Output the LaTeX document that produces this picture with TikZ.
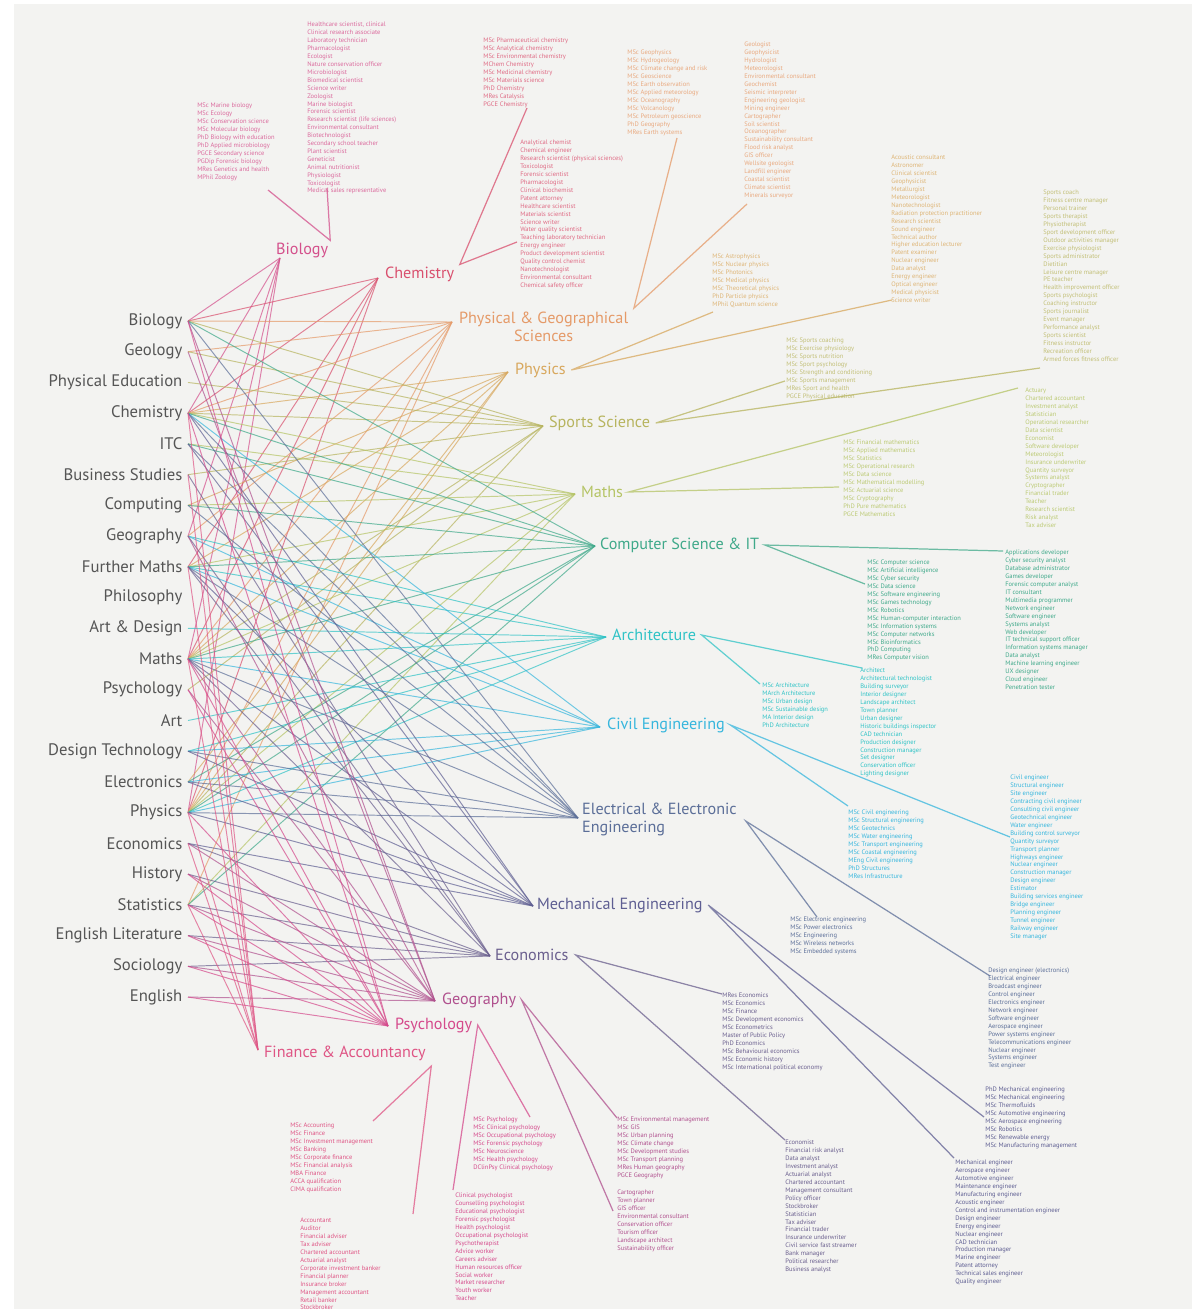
\documentclass[tikz,border=0pt]{standalone}
\usepackage{fontspec}
\setmainfont{PT Sans}
\usetikzlibrary{positioning}
\definecolor{subjgray}{HTML}{555555}
\definecolor{bggray}{HTML}{F3F3F1}
\definecolor{cbio}{HTML}{D4508C}
\definecolor{cchem}{HTML}{D9506E}
\definecolor{cphg}{HTML}{E59A68}
\definecolor{cphy}{HTML}{D8A85E}
\definecolor{cspo}{HTML}{B7B45E}
\definecolor{cmat}{HTML}{B5C465}
\definecolor{ccs}{HTML}{3FA98A}
\definecolor{carc}{HTML}{2FC3C6}
\definecolor{cciv}{HTML}{36B6DD}
\definecolor{cele}{HTML}{5B6E98}
\definecolor{cmec}{HTML}{5E5E92}
\definecolor{ceco}{HTML}{6A5F8E}
\definecolor{cgeo}{HTML}{B0508E}
\definecolor{cpsy}{HTML}{D54A8C}
\definecolor{cfin}{HTML}{DF5585}
\tikzset{
  subject/.style={anchor=east, inner xsep=3pt, inner ysep=1pt,
    font=\fontsize{9.5}{10}\selectfont, text=subjgray},
  degree/.style={anchor=west, inner sep=1pt, font=\fontsize{9.2}{10}\selectfont},
  jobs/.style={anchor=north west, inner sep=0pt, align=left,
    font=\fontsize{3.7}{4.5}\selectfont},
  link/.style={line width=0.55pt, opacity=0.7},
  joblink/.style={line width=0.7pt, opacity=0.75}
}

\begin{document}
\begin{tikzpicture}[x=0.02cm, y=-0.02cm]

    % Fond
    \fill[white] (0,0) rectangle (1194,1311);
    \fill[bggray] (14,4) rectangle (1192,1309);
    \useasboundingbox (0,0) rectangle (1194,1311);

    % Subjects
    \foreach \name [count=\i] in {Biology, Geology, Physical Education, Chemistry, ITC,
        Business Studies, Computing, Geography, Further Maths, Philosophy, Art \& Design,
        Maths, Psychology, Art, Design Technology, Electronics, Physics, Economics,
        History, Statistics, English Literature, Sociology, English}
        \node[subject] (s\i) at (188, {290.27+30.73*\i}) {\name};

    % Degrees
    \coordinate (dBio) at (280,258);
    \coordinate (dChem) at (378,278);
    \coordinate (dPhg) at (452,322);
    \coordinate (dPhy) at (508,372);
    \coordinate (dSpo) at (543,426);
    \coordinate (dMat) at (575,494);
    \coordinate (dCs) at (595,546);
    \coordinate (dArc) at (606,637);
    \coordinate (dCiv) at (600,727);
    \coordinate (dEle) at (578,818);
    \coordinate (dMec) at (533,906);
    \coordinate (dEco) at (490,956);
    \coordinate (dGeo) at (435,1001);
    \coordinate (dPsy) at (388,1026);
    \coordinate (dFin) at (258,1050);

    % Links
    \foreach \d/\col/\list in {
        dBio/cbio/{1,4,8,12,17},
        dChem/cchem/{1,4,9,12,17},
        dPhg/cphg/{1,2,4,8,12,17,20},
        dPhy/cphy/{4,7,9,12,16,17},
        dSpo/cspo/{1,2,3,4,6,12,13,17},
        dMat/cmat/{4,5,7,9,12,17,20},
        dCs/ccs/{1,4,5,7,9,12,16,17,20},
        dArc/carc/{8,9,11,12,14,15,17},
        dCiv/cciv/{4,8,9,12,15,16,17},
        dEle/cele/{1,4,5,7,9,12,15,16,17},
        dMec/cmec/{4,5,9,12,15,16,17,18},
        dEco/ceco/{6,8,9,12,18,19,20,21,22},
        dGeo/cgeo/{1,2,8,12,13,18,19,20,21,22,23},
        dPsy/cpsy/{1,4,12,13,17,19,20,21,22,23},
        dFin/cfin/{4,6,9,12,17,18,20}}
    {
        \foreach \s in \list
            \draw[link, draw=\col] (s\s.east) -- (\d);
    }

    % Degree labels
    \node[degree, text=cbio] (lBio) at (274,250) {Biology};
    \node[degree, text=cchem] (lChem) at (383,274) {Chemistry};
    \node[degree, text=cphg, anchor=north west, align=center] (lPhg) at (457,310)
        {Physical \& Geographical\\Sciences};
    \node[degree, text=cphy] (lPhy) at (513,370) {Physics};
    \node[degree, text=cspo] (lSpo) at (547,423) {Sports Science};
    \node[degree, text=cmat] (lMat) at (579,492) {Maths};
    \node[degree, text=ccs] (lCs) at (598,545) {Computer Science \& IT};
    \node[degree, text=carc] (lArc) at (610,635) {Architecture};
    \node[degree, text=cciv] (lCiv) at (605,725) {Civil Engineering};
    \node[degree, text=cele, anchor=north west, align=left] (lEle) at (580,801)
        {Electrical \& Electronic\\Engineering};
    \node[degree, text=cmec] (lMec) at (535,905) {Mechanical Engineering};
    \node[degree, text=ceco] (lEco) at (493,955) {Economics};
    \node[degree, text=cgeo] (lGeo) at (440,1000) {Geography};
    \node[degree, text=cpsy] (lPsy) at (393,1025) {Psychology};
    \node[degree, text=cfin] (lFin) at (262,1053) {Finance \& Accountancy};

    % Careers and further study
    \node[jobs, text=cbio!85] (jA) at (197,103) {MSc Marine biology\\MSc Ecology\\MSc Conservation science\\MSc Molecular biology\\PhD Biology with education\\PhD Applied microbiology\\PGCE Secondary science\\PGDip Forensic biology\\MRes Genetics and health\\MPhil Zoology};
    \node[jobs, text=cbio!85] (jB) at (307,22) {Healthcare scientist, clinical\\Clinical research associate\\Laboratory technician\\Pharmacologist\\Ecologist\\Nature conservation officer\\Microbiologist\\Biomedical scientist\\Science writer\\Zoologist\\Marine biologist\\Forensic scientist\\Research scientist (life sciences)\\Environmental consultant\\Biotechnologist\\Secondary school teacher\\Plant scientist\\Geneticist\\Animal nutritionist\\Physiologist\\Toxicologist\\Medical sales representative};
    \node[jobs, text=cchem!85] (jC) at (483,38) {MSc Pharmaceutical chemistry\\MSc Analytical chemistry\\MSc Environmental chemistry\\MChem Chemistry\\MSc Medicinal chemistry\\MSc Materials science\\PhD Chemistry\\MRes Catalysis\\PGCE Chemistry};
    \node[jobs, text=cchem!85] (jD) at (520,140) {Analytical chemist\\Chemical engineer\\Research scientist (physical sciences)\\Toxicologist\\Forensic scientist\\Pharmacologist\\Clinical biochemist\\Patent attorney\\Healthcare scientist\\Materials scientist\\Science writer\\Water quality scientist\\Teaching laboratory technician\\Energy engineer\\Product development scientist\\Quality control chemist\\Nanotechnologist\\Environmental consultant\\Chemical safety officer};
    \node[jobs, text=cphg!85] (jE) at (627,50) {MSc Geophysics\\MSc Hydrogeology\\MSc Climate change and risk\\MSc Geoscience\\MSc Earth observation\\MSc Applied meteorology\\MSc Oceanography\\MSc Volcanology\\MSc Petroleum geoscience\\PhD Geography\\MRes Earth systems};
    \node[jobs, text=cphg!85] (jF) at (744,42) {Geologist\\Geophysicist\\Hydrologist\\Meteorologist\\Environmental consultant\\Geochemist\\Seismic interpreter\\Engineering geologist\\Mining engineer\\Cartographer\\Soil scientist\\Oceanographer\\Sustainability consultant\\Flood risk analyst\\GIS officer\\Wellsite geologist\\Landfill engineer\\Coastal scientist\\Climate scientist\\Minerals surveyor};
    \node[jobs, text=cphy!85] (jG) at (712,254) {MSc Astrophysics\\MSc Nuclear physics\\MSc Photonics\\MSc Medical physics\\MSc Theoretical physics\\PhD Particle physics\\MPhil Quantum science};
    \node[jobs, text=cphy!85] (jH) at (891,155) {Acoustic consultant\\Astronomer\\Clinical scientist\\Geophysicist\\Metallurgist\\Meteorologist\\Nanotechnologist\\Radiation protection practitioner\\Research scientist\\Sound engineer\\Technical author\\Higher education lecturer\\Patent examiner\\Nuclear engineer\\Data analyst\\Energy engineer\\Optical engineer\\Medical physicist\\Science writer};
    \node[jobs, text=cspo!85] (jI) at (786,338) {MSc Sports coaching\\MSc Exercise physiology\\MSc Sports nutrition\\MSc Sport psychology\\MSc Strength and conditioning\\MSc Sports management\\MRes Sport and health\\PGCE Physical education};
    \node[jobs, text=cspo!85] (jJ) at (1043,190) {Sports coach\\Fitness centre manager\\Personal trainer\\Sports therapist\\Physiotherapist\\Sport development officer\\Outdoor activities manager\\Exercise physiologist\\Sports administrator\\Dietitian\\Leisure centre manager\\PE teacher\\Health improvement officer\\Sports psychologist\\Coaching instructor\\Sports journalist\\Event manager\\Performance analyst\\Sports scientist\\Fitness instructor\\Recreation officer\\Armed forces fitness officer};
    \node[jobs, text=cmat!90] (jK) at (843,440) {MSc Financial mathematics\\MSc Applied mathematics\\MSc Statistics\\MSc Operational research\\MSc Data science\\MSc Mathematical modelling\\MSc Actuarial science\\MSc Cryptography\\PhD Pure mathematics\\PGCE Mathematics};
    \node[jobs, text=cmat!90] (jL) at (1025,388) {Actuary\\Chartered accountant\\Investment analyst\\Statistician\\Operational researcher\\Data scientist\\Economist\\Software developer\\Meteorologist\\Insurance underwriter\\Quantity surveyor\\Systems analyst\\Cryptographer\\Financial trader\\Teacher\\Research scientist\\Risk analyst\\Tax adviser};
    \node[jobs, text=ccs] (jM) at (1005,550) {Applications developer\\Cyber security analyst\\Database administrator\\Games developer\\Forensic computer analyst\\IT consultant\\Multimedia programmer\\Network engineer\\Software engineer\\Systems analyst\\Web developer\\IT technical support officer\\Information systems manager\\Data analyst\\Machine learning engineer\\UX designer\\Cloud engineer\\Penetration tester};
    \node[jobs, text=ccs] (jN) at (867,560) {MSc Computer science\\MSc Artificial intelligence\\MSc Cyber security\\MSc Data science\\MSc Software engineering\\MSc Games technology\\MSc Robotics\\MSc Human-computer interaction\\MSc Information systems\\MSc Computer networks\\MSc Bioinformatics\\PhD Computing\\MRes Computer vision};
    \node[jobs, text=carc] (jO) at (860,668) {Architect\\Architectural technologist\\Building surveyor\\Interior designer\\Landscape architect\\Town planner\\Urban designer\\Historic buildings inspector\\CAD technician\\Production designer\\Construction manager\\Set designer\\Conservation officer\\Lighting designer};
    \node[jobs, text=carc] (jP) at (762,683) {MSc Architecture\\MArch Architecture\\MSc Urban design\\MSc Sustainable design\\MA Interior design\\PhD Architecture};
    \node[jobs, text=cciv] (jQ) at (848,810) {MSc Civil engineering\\MSc Structural engineering\\MSc Geotechnics\\MSc Water engineering\\MSc Transport engineering\\MSc Coastal engineering\\MEng Civil engineering\\PhD Structures\\MRes Infrastructure};
    \node[jobs, text=cciv] (jR) at (1010,775) {Civil engineer\\Structural engineer\\Site engineer\\Contracting civil engineer\\Consulting civil engineer\\Geotechnical engineer\\Water engineer\\Building control surveyor\\Quantity surveyor\\Transport planner\\Highways engineer\\Nuclear engineer\\Construction manager\\Design engineer\\Estimator\\Building services engineer\\Bridge engineer\\Planning engineer\\Tunnel engineer\\Railway engineer\\Site manager};
    \node[jobs, text=cele] (jS) at (790,917) {MSc Electronic engineering\\MSc Power electronics\\MSc Engineering\\MSc Wireless networks\\MSc Embedded systems};
    \node[jobs, text=cele] (jT) at (988,968) {Design engineer (electronics)\\Electrical engineer\\Broadcast engineer\\Control engineer\\Electronics engineer\\Network engineer\\Software engineer\\Aerospace engineer\\Power systems engineer\\Telecommunications engineer\\Nuclear engineer\\Systems engineer\\Test engineer};
    \node[jobs, text=cmec] (jU) at (985,1087) {PhD Mechanical engineering\\MSc Mechanical engineering\\MSc Thermofluids\\MSc Automotive engineering\\MSc Aerospace engineering\\MSc Robotics\\MSc Renewable energy\\MSc Manufacturing management};
    \node[jobs, text=cmec] (jV) at (955,1160) {Mechanical engineer\\Aerospace engineer\\Automotive engineer\\Maintenance engineer\\Manufacturing engineer\\Acoustic engineer\\Control and instrumentation engineer\\Design engineer\\Energy engineer\\Nuclear engineer\\CAD technician\\Production manager\\Marine engineer\\Patent attorney\\Technical sales engineer\\Quality engineer};
    \node[jobs, text=ceco] (jW) at (722,993) {MRes Economics\\MSc Economics\\MSc Finance\\MSc Development economics\\MSc Econometrics\\Master of Public Policy\\PhD Economics\\MSc Behavioural economics\\MSc Economic history\\MSc International political economy};
    \node[jobs, text=ceco] (jX) at (785,1140) {Economist\\Financial risk analyst\\Data analyst\\Investment analyst\\Actuarial analyst\\Chartered accountant\\Management consultant\\Policy officer\\Stockbroker\\Statistician\\Tax adviser\\Financial trader\\Insurance underwriter\\Civil service fast streamer\\Bank manager\\Political researcher\\Business analyst};
    \node[jobs, text=cgeo] (jY) at (617,1117) {MSc Environmental management\\MSc GIS\\MSc Urban planning\\MSc Climate change\\MSc Development studies\\MSc Transport planning\\MRes Human geography\\PGCE Geography};
    \node[jobs, text=cgeo] (jZ) at (617,1190) {Cartographer\\Town planner\\GIS officer\\Environmental consultant\\Conservation officer\\Tourism officer\\Landscape architect\\Sustainability officer};
    \node[jobs, text=cpsy] (jAA) at (473,1117) {MSc Psychology\\MSc Clinical psychology\\MSc Occupational psychology\\MSc Forensic psychology\\MSc Neuroscience\\MSc Health psychology\\DClinPsy Clinical psychology};
    \node[jobs, text=cpsy] (jAB) at (455,1193) {Clinical psychologist\\Counselling psychologist\\Educational psychologist\\Forensic psychologist\\Health psychologist\\Occupational psychologist\\Psychotherapist\\Advice worker\\Careers adviser\\Human resources officer\\Social worker\\Market researcher\\Youth worker\\Teacher};
    \node[jobs, text=cfin] (jAC) at (290,1123) {MSc Accounting\\MSc Finance\\MSc Investment management\\MSc Banking\\MSc Corporate finance\\MSc Financial analysis\\MBA Finance\\ACCA qualification\\CIMA qualification};
    \node[jobs, text=cfin] (jAD) at (300,1218) {Accountant\\Auditor\\Financial adviser\\Tax adviser\\Chartered accountant\\Actuarial analyst\\Corporate investment banker\\Financial planner\\Insurance broker\\Management accountant\\Retail banker\\Stockbroker};

    % Attach points
    \coordinate (tA) at (268,190);
    \coordinate (tB) at (327,188);
    \coordinate (tC) at (527,108);
    \coordinate (tD) at (517,242);
    \coordinate (tE) at (677,138);
    \coordinate (tF) at (747,204);
    \coordinate (tG) at (713,312);
    \coordinate (tH) at (892,300);
    \coordinate (tI) at (785,381);
    \coordinate (tJ) at (1040,368);
    \coordinate (tK) at (839,487);
    \coordinate (tL) at (1018,388);
    \coordinate (tM) at (1003,551);
    \coordinate (tN) at (865,584);
    \coordinate (tO) at (862,668);
    \coordinate (tP) at (760,684);
    \coordinate (tQ) at (848,806);
    \coordinate (tR) at (1010,837);
    \coordinate (tS) at (817,917);
    \coordinate (tT) at (990,976);
    \coordinate (tU) at (984,1117);
    \coordinate (tV) at (954,1158);
    \coordinate (tW) at (722,994);
    \coordinate (tX) at (785,1140);
    \coordinate (tY) at (617,1118);
    \coordinate (tZ) at (613,1211);
    \coordinate (tAA) at (530,1117);
    \coordinate (tAB) at (453,1190);
    \coordinate (tAC) at (373,1121);
    \coordinate (tAD) at (413,1214);

    % Career links
    \draw[joblink, cbio] (tA) -- (lBio.north east) -- (tB);
    \draw[joblink, cchem] (tC) -- ([xshift=2pt]lChem.north east) -- (tD);
    \draw[joblink, cphg] (tE) -- ([xshift=2pt,yshift=1pt]lPhg.north east) -- (tF);
    \draw[joblink, cphy] (tG) -- ([xshift=2pt]lPhy.east) -- (tH);
    \draw[joblink, cspo] (tI) -- ([xshift=2pt]lSpo.east) -- (tJ);
    \draw[joblink, cmat] (tK) -- ([xshift=2pt]lMat.east) -- (tL);
    \draw[joblink, ccs] (tM) -- ([xshift=2pt]lCs.east) -- (tN);
    \draw[joblink, carc] (tO) -- ([xshift=2pt]lArc.east) -- (tP);
    \draw[joblink, cciv] (tQ) -- ([xshift=2pt]lCiv.east) -- (tR);
    \draw[joblink, cele] (tS) -- ([xshift=4pt,yshift=-1pt]lEle.east) -- (tT);
    \draw[joblink, cmec] (tU) -- ([xshift=2pt]lMec.east) -- (tV);
    \draw[joblink, ceco] (tW) -- ([xshift=3pt]lEco.east) -- (tX);
    \draw[joblink, cgeo] (tY) -- ([xshift=2pt]lGeo.east) -- (tZ);
    \draw[joblink, cpsy] (tAA) -- ([xshift=2pt]lPsy.east) -- (tAB);
    \draw[joblink, cfin] (tAC) -- ([xshift=2pt,yshift=-2pt]lFin.south east) -- (tAD);

\end{tikzpicture}
\end{document}
